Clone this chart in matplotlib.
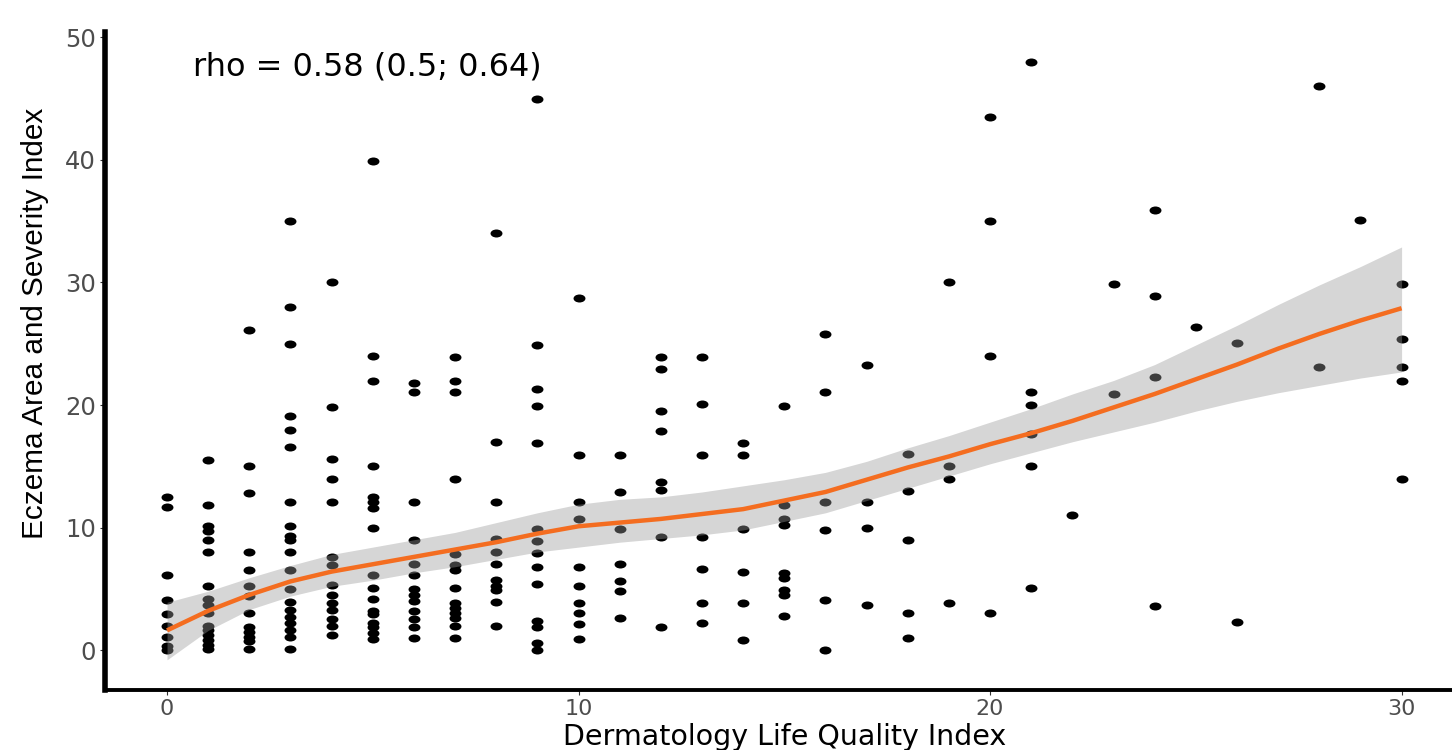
import matplotlib
matplotlib.use("Agg")
import matplotlib.pyplot as plt
from matplotlib.path import Path
import numpy as np

# DLQI (x) and EASI (y) per patient, grouped by DLQI score
dlqi = [
    0, 0, 0, 0, 0, 0, 0, 0, 0,
    1, 1, 1, 1, 1, 1, 1, 1, 1, 1, 1, 1, 1, 1, 1, 1,
    2, 2, 2, 2, 2, 2, 2, 2, 2, 2, 2, 2, 2,
    3, 3, 3, 3, 3, 3, 3, 3, 3, 3, 3, 3, 3, 3, 3, 3, 3, 3, 3, 3,
    4, 4, 4, 4, 4, 4, 4, 4, 4, 4, 4, 4, 4, 4,
    5, 5, 5, 5, 5, 5, 5, 5, 5, 5, 5, 5, 5, 5, 5, 5, 5,
    6, 6, 6, 6, 6, 6, 6, 6, 6, 6, 6, 6, 6,
    7, 7, 7, 7, 7, 7, 7, 7, 7, 7, 7, 7, 7, 7,
    8, 8, 8, 8, 8, 8, 8, 8, 8, 8, 8,
    9, 9, 9, 9, 9, 9, 9, 9, 9, 9, 9, 9, 9, 9,
    10, 10, 10, 10, 10, 10, 10, 10, 10, 10,
    11, 11, 11, 11, 11, 11, 11,
    12, 12, 12, 12, 12, 12, 12, 12,
    13, 13, 13, 13, 13, 13, 13,
    14, 14, 14, 14, 14, 14,
    15, 15, 15, 15, 15, 15, 15, 15, 15,
    16, 16, 16, 16, 16, 16,
    17, 17, 17, 17,
    18, 18, 18, 18, 18,
    19, 19, 19, 19,
    20, 20, 20, 20,
    21, 21, 21, 21, 21, 21,
    22,
    23, 23,
    24, 24, 24, 24,
    25,
    26, 26,
    28, 28,
    29,
    30, 30, 30, 30, 30,
]
easi = [
    12.5, 11.7, 6.1, 4.1, 2.9, 2.0, 1.1, 0.3, 0.0,
    15.5, 11.8, 10.1, 9.7, 9.0, 8.0, 5.2, 4.2, 3.7, 3.0, 2.0, 1.6, 1.2, 0.8, 0.4, 0.1,
    26.1, 15.0, 12.8, 8.0, 6.5, 5.2, 4.4, 3.0, 1.9, 1.5, 1.1, 0.7, 0.1,
    35.0, 28.0, 25.0, 19.1, 18.0, 16.6, 12.1, 10.1, 9.3, 9.0, 8.0, 6.5, 5.0, 3.9, 3.3, 2.7, 2.2, 1.6, 1.1, 0.1,
    30.0, 19.8, 15.6, 14.0, 12.1, 7.6, 6.9, 5.3, 4.5, 3.8, 3.3, 2.5, 2.0, 1.2,
    39.9, 24.0, 22.0, 15.0, 12.5, 12.1, 11.6, 10.0, 6.1, 5.1, 4.2, 3.2, 2.9, 2.2, 1.9, 1.4, 0.9,
    21.8, 21.1, 12.1, 9.0, 7.0, 6.1, 5.0, 4.5, 4.0, 3.2, 2.5, 1.9, 1.0,
    23.9, 22.0, 21.1, 14.0, 7.8, 6.9, 6.5, 5.1, 3.8, 3.4, 3.0, 2.6, 2.0, 1.0,
    34.0, 17.0, 12.1, 9.1, 8.0, 7.0, 5.7, 5.2, 4.9, 3.9, 2.0,
    45.0, 24.9, 21.3, 19.9, 16.9, 9.9, 8.9, 7.9, 6.8, 5.4, 2.4, 1.9, 0.6, 0.0,
    28.7, 15.9, 12.1, 10.7, 6.8, 5.2, 3.8, 3.0, 2.1, 0.9,
    15.9, 12.9, 9.9, 7.0, 5.6, 4.8, 2.6,
    23.9, 22.9, 19.5, 17.9, 13.7, 13.1, 9.2, 1.9,
    23.9, 20.1, 15.9, 9.2, 6.6, 3.8, 2.2,
    16.9, 15.9, 9.9, 6.4, 3.8, 0.8,
    19.9, 11.8, 10.7, 10.2, 6.3, 5.9, 4.9, 4.5, 2.8,
    25.8, 21.1, 12.1, 9.8, 4.1, 0.0,
    23.3, 12.1, 10.0, 3.7,
    16.0, 13.0, 9.0, 3.0, 1.0,
    30.0, 15.0, 14.0, 3.8,
    43.5, 35.0, 24.0, 3.0,
    48.0, 21.1, 20.0, 17.6, 15.0, 5.1,
    11.0,
    29.9, 20.9,
    35.9, 28.9, 22.3, 3.6,
    26.4,
    25.1, 2.3,
    46.0, 23.1,
    35.1,
    29.9, 25.4, 23.1, 22.0, 14.0,
]

# loess smooth with 95% band
smooth_x = [0, 1, 2, 3, 4, 5, 6, 7, 8, 9, 10, 11, 12, 13, 14, 15,
            16, 17, 18, 19, 20, 21, 22, 23, 24, 25, 26, 27, 28, 29, 30]
smooth_fit = [1.6, 3.2, 4.5, 5.6, 6.4, 7.0, 7.6, 8.2, 8.8, 9.5, 10.1, 10.4, 10.7, 11.1, 11.5, 12.2,
              12.9, 13.9, 14.9, 15.8, 16.8, 17.7, 18.7, 19.8, 20.9, 22.1, 23.3, 24.6, 25.8, 26.9, 27.9]
smooth_lo = [-0.8, 1.6, 3.3, 4.4, 5.2, 5.7, 6.3, 6.8, 7.4, 8.0, 8.4, 8.8, 9.1, 9.4, 9.8, 10.5,
             11.2, 12.2, 13.2, 14.2, 15.2, 16.1, 17.0, 17.8, 18.6, 19.5, 20.3, 21.0, 21.6, 22.2, 22.7]
smooth_hi = [3.9, 4.8, 5.9, 6.9, 7.8, 8.4, 9.0, 9.6, 10.4, 11.2, 11.9, 12.3, 12.5, 12.9, 13.4, 13.9,
             14.5, 15.4, 16.5, 17.5, 18.6, 19.7, 20.9, 22.0, 23.3, 24.9, 26.5, 28.2, 29.8, 31.3, 32.9]

x_ticks = [0, 10, 20, 30]
y_ticks = [0, 10, 20, 30, 40, 50]

W, H = 1452, 750
fig = plt.figure(figsize=(W / 100, H / 100), dpi=100)
ax = fig.add_axes([105.3 / W, 60.3 / H, 1358 / W, 657.6 / H])

# slightly flattened dots, like the source
circ = Path.unit_circle()
dot = Path(circ.vertices * np.array([1.0, 0.67]), circ.codes)

ax.scatter(dlqi, easi, marker=dot, s=74, color="black", linewidths=0, zorder=2)
ax.fill_between(smooth_x, smooth_lo, smooth_hi, color="#999999", alpha=0.4, lw=0, zorder=3)
ax.plot(smooth_x, smooth_fit, color="#F46D20", lw=3.2, zorder=4, solid_capstyle="butt")

ax.set_xlim(-1.5, 31.5)
ax.set_ylim(-3.24, 50.44)
ax.set_xticks(x_ticks)
ax.set_yticks(y_ticks)

for s in ["top", "right"]:
    ax.spines[s].set_visible(False)
ax.spines["left"].set_linewidth(4)
ax.spines["bottom"].set_linewidth(2.8)
ax.tick_params(direction="out", length=3.6, width=0.8, color="#333333",
               labelcolor="#4D4D4D", labelsize=16, pad=3)
ax.tick_params(axis="y", labelsize=17.5)
for lab in ax.get_xticklabels() + ax.get_yticklabels():
    lab.set_fontfamily("DejaVu Sans")

fig.text(785 / W, (H - 745) / H, "Dermatology Life Quality Index",
         ha="center", va="baseline", fontsize=20.5, family="DejaVu Sans", color="black")
fig.text(35 / W, (H - 323.5) / H, "Eczema Area and Severity Index",
         ha="center", va="center", rotation=90, fontsize=21.4,
         family=["Liberation Sans", "DejaVu Sans"], color="black")
fig.text(193 / W, (H - 75) / H, "rho = 0.58 (0.5; 0.64)",
         ha="left", va="baseline", fontsize=23, family="DejaVu Sans", color="black")

fig.savefig("out.png", dpi=100, facecolor="white")
